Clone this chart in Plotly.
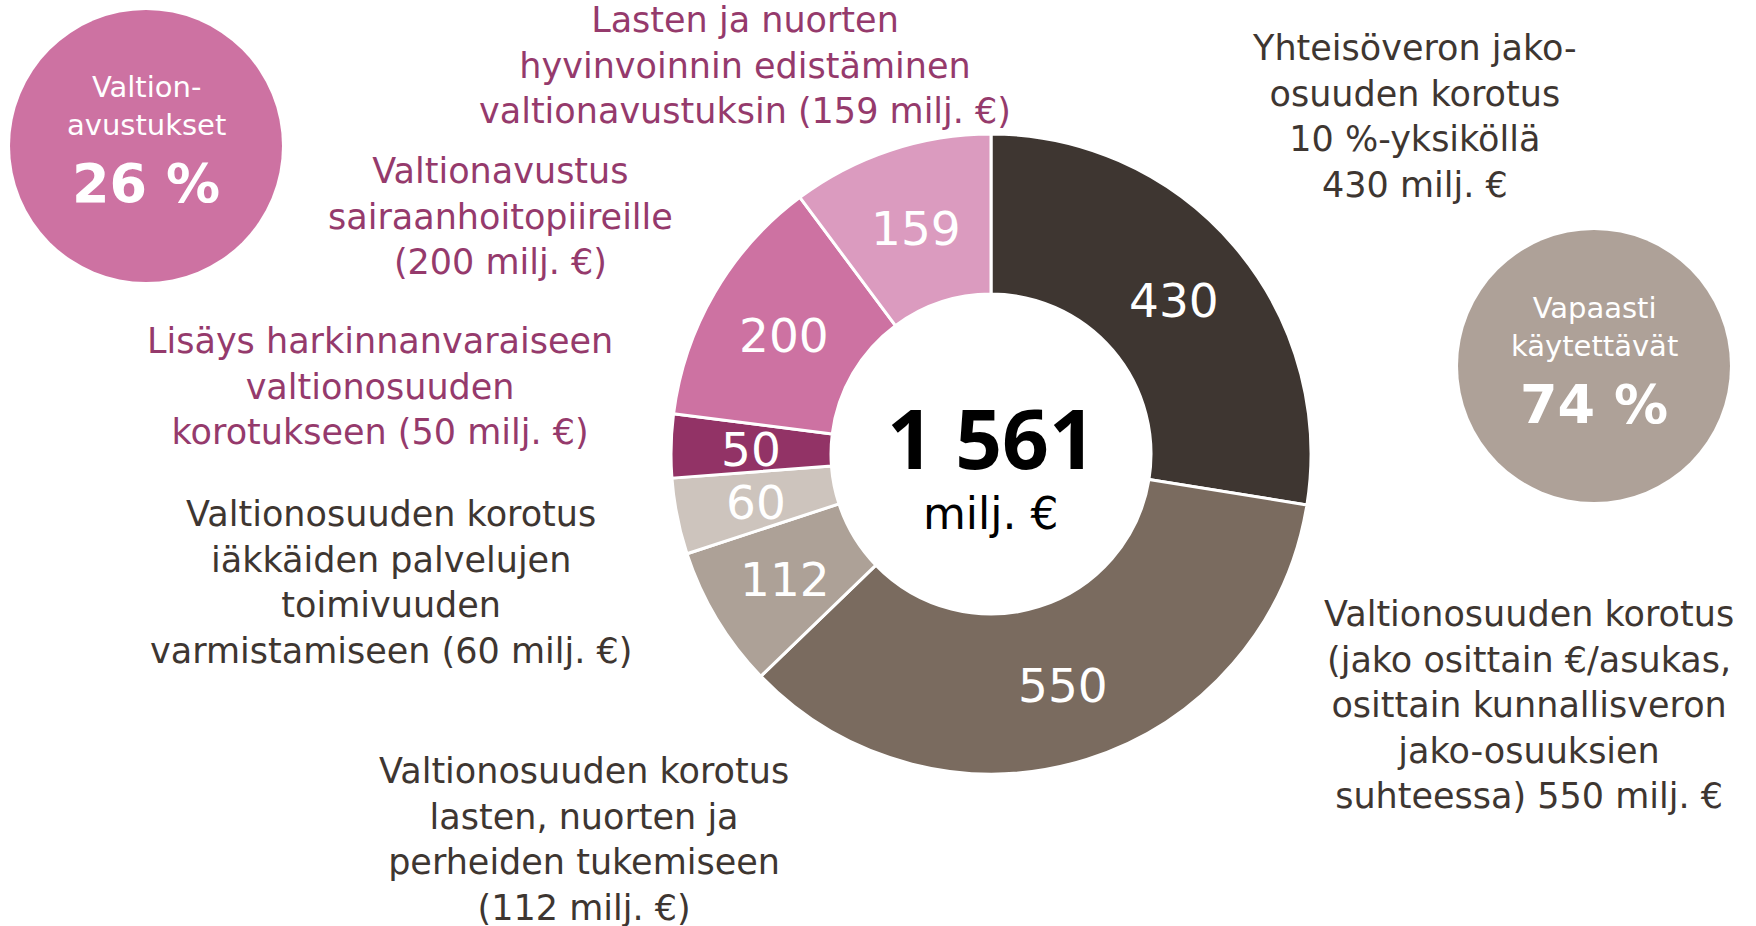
import math
import plotly.graph_objects as go

# figure fills the whole 1756x926 window (page body margin removed below)
OFF = 0
W, H = 1756, 926

# ---- data ----
values = [430, 550, 112, 60, 50, 200, 159]
slice_labels = ["430", "550", "112", "60", "50", "200", "159"]
categories = [
    "Yhteisöveron jako-osuuden korotus",
    "Valtionosuuden korotus (€/asukas, kunnallisvero)",
    "Valtionosuuden korotus lasten, nuorten ja perheiden tukemiseen",
    "Valtionosuuden korotus iäkkäiden palvelujen toimivuuden varmistamiseen",
    "Lisäys harkinnanvaraiseen valtionosuuden korotukseen",
    "Valtionavustus sairaanhoitopiireille",
    "Lasten ja nuorten hyvinvoinnin edistäminen valtionavustuksin",
]
colors = ["#3e3631", "#7a6b5f", "#ada197", "#cdc4bd", "#923366", "#cd72a2", "#db9bbf"]
total_label = "1 561"
share_grants = "26 %"
share_free = "74 %"

# ---- geometry (window pixels) ----
CX, CY, R = 991, 454, 320
HOLE = 0.5

def px(x):
    return (x - OFF) / W

def py(y):
    return 1 - (y - OFF) / H

fig = go.Figure()
fig.add_trace(go.Pie(
    values=values,
    labels=categories,
    sort=False,
    direction="clockwise",
    rotation=0,
    hole=HOLE,
    marker=dict(colors=colors, line=dict(color="white", width=3)),
    textinfo="none",
    hoverinfo="skip",
    showlegend=False,
    domain=dict(x=[px(CX - R), px(CX + R)], y=[py(CY + R), py(CY - R)]),
))

FONT = "DejaVu Sans"
BOLD_FONT = "Open Sans"
DARK = "#3e3631"
PINK = "#953a6c"

annotations = []

def add_text(x, y, text, color, size=35, weight="normal", family=FONT):
    annotations.append(dict(x=px(x), y=py(y), text=text, showarrow=False,
                            font=dict(family=family, size=size, color=color, weight=weight),
                            xanchor="center", yanchor="middle", align="center",
                            borderpad=0))

def add_block(x, y_first, y_last, lines, color, size=35):
    add_text(x, (y_first + y_last) / 2, "<br>".join(lines), color, size=size)

# slice value labels at mid-ring, computed from the data
tot = sum(values)
cum = 0
rmid = R * (1 + HOLE) / 2
for v, lab in zip(values, slice_labels):
    a = (cum + v / 2) / tot * 2 * math.pi
    cum += v
    add_text(CX + rmid * math.sin(a), CY - rmid * math.cos(a) + 2, lab, "white", size=47)

# centre
add_text(CX, 437, total_label, "#000000", size=82, weight="bold", family=BOLD_FONT)
add_text(CX, 513, "milj. €", "#000000", size=44)

# category descriptions
add_block(745, 22, 110,
          ["Lasten ja nuorten", "hyvinvoinnin edistäminen", "valtionavustuksin (159 milj. €)"], PINK)
add_block(500, 171, 262,
          ["Valtionavustus", "sairaanhoitopiireille", "(200 milj. €)"], PINK)
add_block(380, 342, 431,
          ["Lisäys harkinnanvaraiseen", "valtionosuuden", "korotukseen (50 milj. €)"], PINK)
add_block(391, 514, 650,
          ["Valtionosuuden korotus", "iäkkäiden palvelujen", "toimivuuden", "varmistamiseen (60 milj. €)"], DARK)
add_block(584, 773, 906,
          ["Valtionosuuden korotus", "lasten, nuorten ja", "perheiden tukemiseen", "(112 milj. €)"], DARK)
add_block(1414, 49, 184,
          ["Yhteisöveron jako-", "osuuden korotus", "10 %-yksiköllä", "430 milj. €"], DARK)
add_block(1529, 615, 794,
          ["Valtionosuuden korotus", "(jako osittain €/asukas,", "osittain kunnallisveron",
           "jako-osuuksien", "suhteessa) 550 milj. €"], DARK)

# side circles
shapes = []
def circle(cx, cy, r, color):
    shapes.append(dict(type="circle", xref="paper", yref="paper",
                       x0=px(cx - r), x1=px(cx + r), y0=py(cy + r), y1=py(cy - r),
                       fillcolor=color, line=dict(width=0), layer="below"))

circle(146, 146, 136, "#cd72a2")
add_text(146, 106, "Valtion-<br>avustukset", "white", size=29)
add_text(146, 183, share_grants, "white", size=54, weight="bold")

circle(1594, 366, 136, "#aea198")
add_text(1594, 327, "Vapaasti<br>käytettävät", "white", size=29)
add_text(1594, 405, share_free, "white", size=54, weight="bold")

fig.update_layout(
    width=W, height=H,
    margin=dict(l=0, r=0, t=0, b=0),
    paper_bgcolor="white", plot_bgcolor="white",
    annotations=annotations, shapes=shapes,
    hovermode=False,
)

fig.write_html("out.html", config={"displayModeBar": False},
               post_script="document.body.style.margin='0';document.body.style.overflow='hidden';")
